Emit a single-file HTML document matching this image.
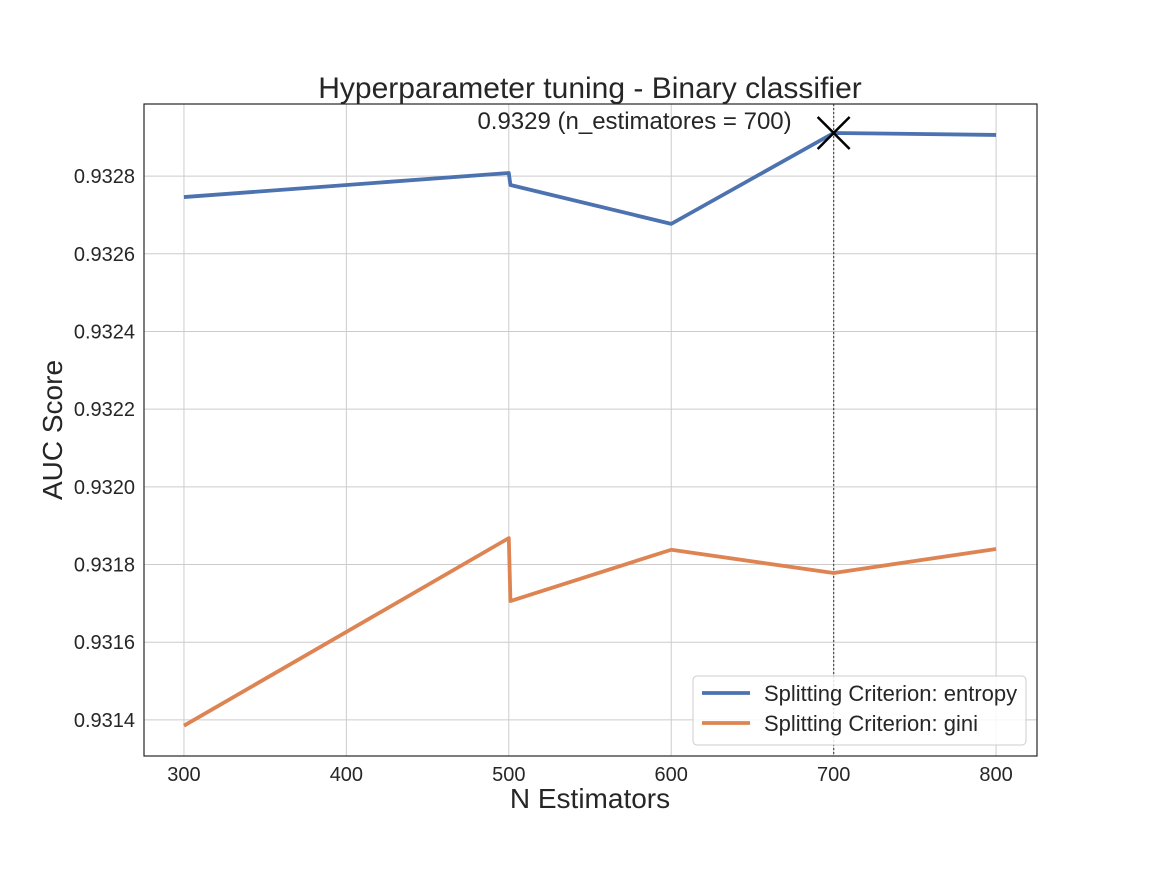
<!DOCTYPE html>
<html><head><meta charset="utf-8"><style>
body{margin:0;background:#fff;font-family:"Liberation Sans",sans-serif}
</style></head><body>
<svg id="chart" width="1152" height="864" xmlns="http://www.w3.org/2000/svg" font-family="Liberation Sans, sans-serif"></svg>
<script>
const xTicks=[300,400,500,600,700,800];
const yTicks=[0.9314,0.9316,0.9318,0.9320,0.9322,0.9324,0.9326,0.9328];
const yTickLabels=["0.9314","0.9316","0.9318","0.9320","0.9322","0.9324","0.9326","0.9328"];
const nEstimators=[300,500,501,600,700,800];
const entropyAUC=[0.932746,0.932808,0.932777,0.932677,0.932911,0.932906];
const giniAUC=[0.931385,0.931868,0.931706,0.931838,0.931778,0.931840];
const bestX=700, bestY=0.932911;
const L=144,R=1037,T=104,B=756;
const xMin=275.4,xMax=825.2,yMin=0.931307,yMax=0.9329856;
const sx=v=>L+(v-xMin)/(xMax-xMin)*(R-L);
const sy=v=>B-(v-yMin)/(yMax-yMin)*(B-T);
const svg=document.getElementById('chart');
const NS="http://www.w3.org/2000/svg";
function mk(tag,attrs,parent){const e=document.createElementNS(NS,tag);for(const k in attrs)e.setAttribute(k,attrs[k]);(parent||svg).appendChild(e);return e;}
xTicks.forEach(t=>{
 const g=mk('line',{x1:sx(t),x2:sx(t),y1:T,y2:B,stroke:'#cccccc','stroke-width':1});
 
 
 const tx=mk('text',{x:sx(t),y:B+25,'text-anchor':'middle','font-size':20,fill:'#262626'});
 tx.textContent=t;
 
 
});
yTicks.forEach((t,i)=>{
 const g=mk('line',{x1:L,x2:R,y1:sy(t),y2:sy(t),stroke:'#cccccc','stroke-width':1});
 
 
 const tx=mk('text',{x:L-9,y:sy(t)+7,'text-anchor':'end','font-size':20,fill:'#262626'});
 tx.textContent=yTickLabels[i];
 
 
});
const vl=mk('line',{x1:sx(bestX),x2:sx(bestX),y1:T,y2:B,stroke:'#555','stroke-width':1.3,'stroke-dasharray':'2,2'});


function series(ys,color,name){
 const p=mk('polyline',{points:nEstimators.map((x,i)=>sx(x)+','+sy(ys[i])).join(' '),fill:'none',stroke:color,'stroke-width':3.8,'stroke-linejoin':'round'});
 
 
}
series(entropyAUC,'#4c72b0','entropy-line');
series(giniAUC,'#dd8452','gini-line');
const bx=sx(bestX),by=sy(bestY);
const m=mk('path',{d:`M${bx-16},${by-16}L${bx+16},${by+16}M${bx-16},${by+16}L${bx+16},${by-16}`,stroke:'#000','stroke-width':2.5});


const ann=mk('text',{x:bx-42,y:by-4,'text-anchor':'end','font-size':24,fill:'#262626'});
ann.textContent='0.9329 (n_estimatores = 700)';


const fr=mk('rect',{x:L,y:T,width:R-L,height:B-T,fill:'none',stroke:'#262626','stroke-width':1.2});


</script>
<svg style="position:absolute;left:0;top:0" width="1152" height="864">
<text x="590" y="98" text-anchor="middle" font-size="30" fill="#262626" font-family="Liberation Sans, sans-serif">Hyperparameter tuning - Binary classifier</text>
<text x="590" y="808" text-anchor="middle" font-size="28" fill="#262626" font-family="Liberation Sans, sans-serif">N Estimators</text>
<text transform="translate(62,430) rotate(-90)" text-anchor="middle" font-size="28" fill="#262626" font-family="Liberation Sans, sans-serif">AUC Score</text>
<g>
<rect x="693" y="676" width="333" height="69" rx="4" fill="#fff" fill-opacity="0.85" stroke="#cccccc"/>
<line x1="702" y1="693" x2="750" y2="693" stroke="#4c72b0" stroke-width="3.8"/>
<text x="764" y="701" font-size="22" fill="#262626" font-family="Liberation Sans, sans-serif">Splitting Criterion: entropy</text>
<line x1="702" y1="723" x2="750" y2="723" stroke="#dd8452" stroke-width="3.8"/>
<text x="764" y="731" font-size="22" fill="#262626" font-family="Liberation Sans, sans-serif">Splitting Criterion: gini</text>
</g>
</svg>
</body></html>
